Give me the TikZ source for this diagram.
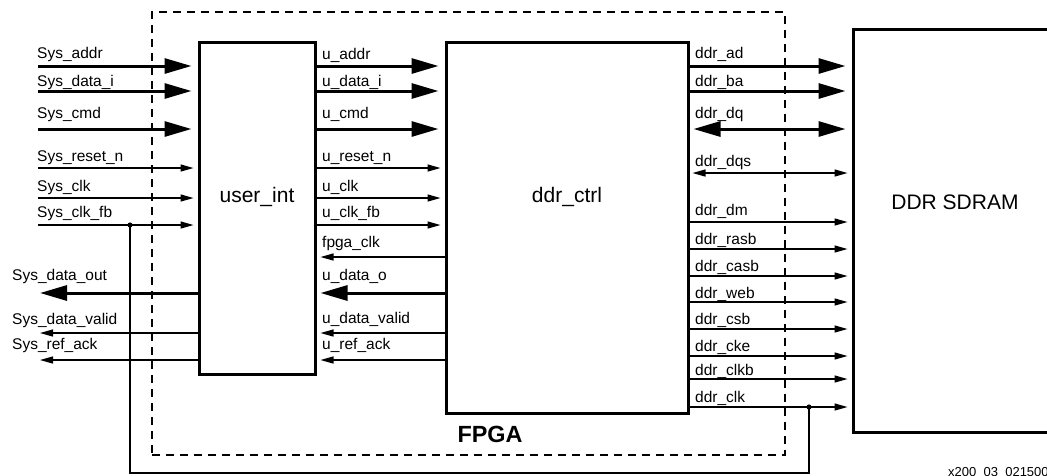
\documentclass[tikz,border=0pt]{standalone}
\usepackage{fontspec}
\setmainfont{Liberation Sans}
\usetikzlibrary{arrows.meta}
\tikzset{
  blk/.style={draw, line width=3pt, inner sep=0pt},
  fpgabox/.style={draw, line width=1.3pt, dash pattern=on 8pt off 6pt, inner sep=0pt},
  bus/.style={line width=3pt, -{Triangle[length=27pt,width=15pt]}, shorten >=6pt},
  bus2/.style={line width=3pt, {Triangle[length=27pt,width=15pt]}-{Triangle[length=27pt,width=15pt]}, shorten >=6pt, shorten <=4pt},
  wire/.style={line width=1.3pt, -{Triangle[length=13pt,width=7pt]}, shorten >=4pt},
  wire2/.style={line width=1.3pt, {Triangle[length=13pt,width=7pt]}-{Triangle[length=13pt,width=7pt]}, shorten >=4pt, shorten <=3pt},
  sig/.style={anchor=base west, inner sep=0pt, font=\fontsize{15.5}{18}\selectfont},
  title/.style={font=\fontsize{21}{25}\selectfont},
}
\begin{document}
\begin{tikzpicture}[x=1pt, y=-1pt]
    \useasboundingbox (0,0) rectangle (1047,475);

    % blocks
    \node[fpgabox, minimum width=633pt, minimum height=443pt] (fpga) at (468.5,233.5) {};
    \node[font=\bfseries\fontsize{23.4}{28}\selectfont] (fpgat) at (490,434) {FPGA};
    \node[blk, minimum width=116pt, minimum height=332pt] (ui) at (257,208) {};
    \node[blk, minimum width=242pt, minimum height=371pt] (dc) at (567,227.5) {};
    \node[blk, minimum width=210pt, minimum height=403pt] (sd) at (958,230.5) {};
    \node[title] (uit) at (257,197) {user\_int};
    \node[title] (dct) at (567,197) {ddr\_ctrl};
    \node[title] (sdt) at (955,202) {DDR SDRAM};

    % rows on the user side
    \coordinate (addr)  at (38,66);
    \coordinate (datai) at (38,91);
    \coordinate (cmd)   at (38,129);
    \coordinate (rst)   at (38,168);
    \coordinate (clk)   at (38,198);
    \coordinate (clkfb) at (38,225);
    \coordinate (fclk)  at (322,257);
    \coordinate (dout)  at (40,293);
    \coordinate (dval)  at (40,333);
    \coordinate (rack)  at (40,360);

    \draw[bus] (addr) -- (addr -| ui.west);
    \draw[bus] (datai) -- (datai -| ui.west);
    \draw[bus] (cmd) -- (cmd -| ui.west);
    \draw[wire] (rst) -- (rst -| ui.west);
    \draw[wire] (clk) -- (clk -| ui.west);
    \draw[wire] (clkfb) -- (clkfb -| ui.west);
    \draw[bus, shorten >=0pt] (dout -| ui.west) -- (dout);
    \draw[wire, shorten >=0pt] (dval -| ui.west) -- (dval);
    \draw[wire, shorten >=0pt] (rack -| ui.west) -- (rack);

    \node[sig] (l1) at (37,58.7) {Sys\_addr};
    \node[sig] (l2) at (37,86) {Sys\_data\_i};
    \node[sig] (l3) at (37,118.3) {Sys\_cmd};
    \node[sig] (l4) at (37,161.7) {Sys\_reset\_n};
    \node[sig] (l5) at (37,191) {Sys\_clk};
    \node[sig] (l6) at (37,217.7) {Sys\_clk\_fb};
    \node[sig] (l7) at (12,280.4) {Sys\_data\_out};
    \node[sig] (l8) at (12,324.4) {Sys\_data\_valid};
    \node[sig] (l9) at (12,349.8) {Sys\_ref\_ack};

    % user_int <-> ddr_ctrl
    \draw[bus] (addr -| ui.east) -- (addr -| dc.west);
    \draw[bus] (datai -| ui.east) -- (datai -| dc.west);
    \draw[bus] (cmd -| ui.east) -- (cmd -| dc.west);
    \draw[wire] (rst -| ui.east) -- (rst -| dc.west);
    \draw[wire] (clk -| ui.east) -- (clk -| dc.west);
    \draw[wire] (clkfb -| ui.east) -- (clkfb -| dc.west);
    \draw[wire] (fclk -| dc.west) -- (fclk -| ui.east);
    \draw[bus, shorten >=4pt] (dout -| dc.west) -- (dout -| ui.east);
    \draw[wire] (dval -| dc.west) -- (dval -| ui.east);
    \draw[wire] (rack -| dc.west) -- (rack -| ui.east);

    \node[sig] (m1) at (322,59.3) {u\_addr};
    \node[sig] (m2) at (322,86) {u\_data\_i};
    \node[sig] (m3) at (322,118.3) {u\_cmd};
    \node[sig] (m4) at (322,161.7) {u\_reset\_n};
    \node[sig] (m5) at (322,191) {u\_clk};
    \node[sig] (m6) at (322,217.7) {u\_clk\_fb};
    \node[sig] (m7) at (322,247.7) {fpga\_clk};
    \node[sig] (m8) at (322,280.3) {u\_data\_o};
    \node[sig] (m9) at (322,323.7) {u\_data\_valid};
    \node[sig] (m10) at (322,349.7) {u\_ref\_ack};

    % ddr_ctrl -> DDR SDRAM
    \coordinate (ad)   at (695,66);
    \coordinate (ba)   at (695,91);
    \coordinate (dq)   at (695,129);
    \coordinate (dqs)  at (695,173);
    \coordinate (dm)   at (695,222);
    \coordinate (rasb) at (695,249);
    \coordinate (casb) at (695,276);
    \coordinate (web)  at (695,302);
    \coordinate (csb)  at (695,329);
    \coordinate (cke)  at (695,356);
    \coordinate (clkb) at (695,379);
    \coordinate (dclk) at (695,407);

    \draw[bus] (ad -| dc.east) -- (ad -| sd.west);
    \draw[bus] (ba -| dc.east) -- (ba -| sd.west);
    \draw[bus2] (dq -| dc.east) -- (dq -| sd.west);
    \draw[wire2] (dqs -| dc.east) -- (dqs -| sd.west);
    \draw[wire] (dm -| dc.east) -- (dm -| sd.west);
    \draw[wire] (rasb -| dc.east) -- (rasb -| sd.west);
    \draw[wire] (casb -| dc.east) -- (casb -| sd.west);
    \draw[wire] (web -| dc.east) -- (web -| sd.west);
    \draw[wire] (csb -| dc.east) -- (csb -| sd.west);
    \draw[wire] (cke -| dc.east) -- (cke -| sd.west);
    \draw[wire] (clkb -| dc.east) -- (clkb -| sd.west);
    \draw[wire] (dclk -| dc.east) -- (dclk -| sd.west);

    \node[sig] (r1) at (695,58.7) {ddr\_ad};
    \node[sig] (r2) at (695,86) {ddr\_ba};
    \node[sig] (r3) at (695,118.3) {ddr\_dq};
    \node[sig] (r4) at (695,166) {ddr\_dqs};
    \node[sig] (r5) at (695,215) {ddr\_dm};
    \node[sig] (r6) at (695,244.5) {ddr\_rasb};
    \node[sig] (r7) at (695,271) {ddr\_casb};
    \node[sig] (r8) at (695,298) {ddr\_web};
    \node[sig] (r9) at (695,324.3) {ddr\_csb};
    \node[sig] (r10) at (695,351) {ddr\_cke};
    \node[sig] (r11) at (695,375) {ddr\_clkb};
    \node[sig] (r12) at (695,402.7) {ddr\_clk};

    % clock feedback
    \coordinate (fbl) at (130,225);
    \coordinate (fbr) at (809,407);
    \coordinate (fbb) at (809,473);
    \draw[line width=1.3pt] (fbl) |- (fbb) -- (fbr);
    \fill (fbl) circle (2.6pt);
    \fill (fbr) circle (2.6pt);

    \node[anchor=base west, inner sep=0pt, font=\fontsize{13}{15}\selectfont] (fig) at (948,476.5) {x200\_03\_021500};
\end{tikzpicture}
\end{document}
